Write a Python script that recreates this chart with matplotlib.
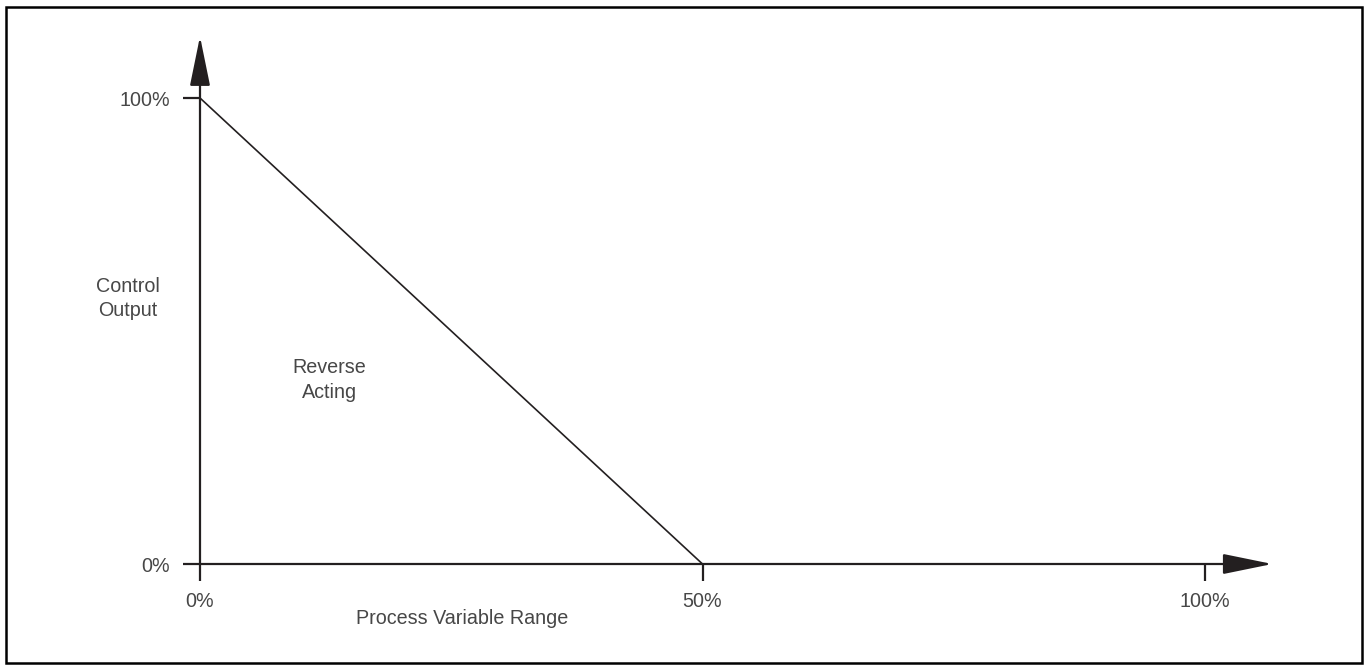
import matplotlib
matplotlib.use("Agg")
import matplotlib.pyplot as plt
from matplotlib.patches import Rectangle

# data (percent of range)
pv_range = [0, 50, 100]
control_output = [100, 0, 0]
x_ticks = [0, 50, 100]
x_tick_labels = ["0%", "50%", "100%"]
y_ticks = [0, 100]
y_tick_labels = ["0%", "100%"]

ink = "#231f20"
text_col = "#474747"
plt.rcParams['font.family'] = ['Liberation Sans', 'DejaVu Sans']

W, H = 1366, 669
fig = plt.figure(figsize=(W / 100, H / 100), dpi=100)

# axes placed so that 0..100 maps onto the drawn axis lengths
ax = fig.add_axes([200 / W, 105 / H, 1005 / W, 466 / H])
ax.set_xlim(0, 100)
ax.set_ylim(0, 100)
for s in ax.spines.values():
    s.set_visible(False)

ax.plot(pv_range, control_output, color=ink, lw=1.2, clip_on=False)

# axes with arrowheads
arrow = dict(arrowstyle="-|>,head_length=2.2,head_width=0.45", color=ink,
             lw=1.6, mutation_scale=14, shrinkA=0, shrinkB=0)
ax.annotate("", xy=(106.7, 0), xytext=(0, 0), arrowprops=arrow,
            annotation_clip=False)
ax.annotate("", xy=(0, 113.2), xytext=(0, 0), arrowprops=arrow,
            annotation_clip=False)

fs = 14.2
ax.set_xticks(x_ticks, x_tick_labels)
ax.set_yticks(y_ticks, y_tick_labels)
ax.tick_params(axis="both", direction="out", length=12.5, width=1.6,
               color=ink, labelsize=fs, labelcolor=text_col)
ax.tick_params(axis="x", pad=8)
ax.tick_params(axis="y", pad=9)

ax.text(-7.2, 57.0, "Control\nOutput", ha="center", va="center", fontsize=fs,
        color=text_col, linespacing=1.35)
ax.text(12.9, 39.5, "Reverse\nActing", ha="center", va="center", fontsize=fs,
        color=text_col, linespacing=1.35)
ax.text(26.1, -11.8, "Process Variable Range", ha="center", va="center",
        fontsize=fs, color=text_col)

fig.patches.append(Rectangle((6 / W, 1 - 663 / H), 1356 / W, 656 / H,
                             transform=fig.transFigure, fill=False,
                             edgecolor="black", lw=1.8))

fig.savefig("out.png", dpi=100)
